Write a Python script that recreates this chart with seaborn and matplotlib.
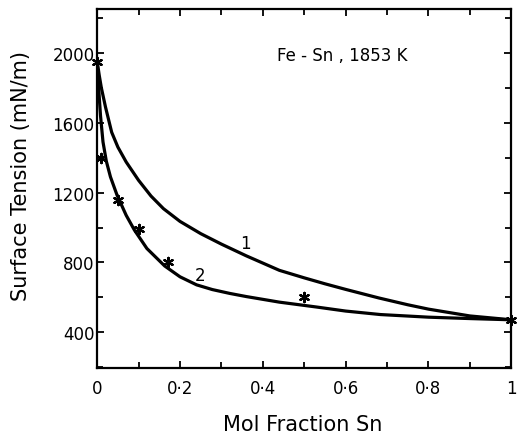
import numpy as np
import pandas as pd
import matplotlib
matplotlib.use("Agg")
import matplotlib.pyplot as plt
from matplotlib.ticker import MultipleLocator, FuncFormatter
import seaborn as sns

# curve 1 (upper model curve)
x_curve1 = [0, 0.005, 0.01, 0.02, 0.035, 0.05, 0.07, 0.1, 0.13, 0.16, 0.2,
            0.25, 0.3, 0.36, 0.44, 0.5, 0.55, 0.6, 0.68, 0.75, 0.8, 0.9, 1.0]
y_curve1 = [1950, 1870, 1800, 1690, 1545, 1460, 1375, 1270, 1180, 1108, 1035,
            965, 905, 838, 755, 712, 678, 646, 597, 558, 533, 494, 472]

# curve 2 (lower model curve)
x_curve2 = [0, 0.004, 0.008, 0.014, 0.022, 0.032, 0.048, 0.07, 0.09, 0.12,
            0.163, 0.2, 0.24, 0.278, 0.32, 0.36, 0.44, 0.53, 0.6, 0.684,
            0.8, 0.9, 1.0]
y_curve2 = [1950, 1780, 1640, 1490, 1380, 1290, 1185, 1070, 985, 880,
            780, 718, 672, 645, 623, 605, 573, 545, 522, 502,
            487, 479, 472]

# experimental points
x_exp = [0, 0.01, 0.05, 0.1, 0.17, 0.5, 1.0]
y_exp = [1950, 1400, 1160, 990, 800, 600, 470]

x_ticks = [0, 0.2, 0.4, 0.6, 0.8, 1.0]
y_ticks = [400, 800, 1200, 1600, 2000]

sns.set_style("ticks")
plt.rcParams["font.family"] = ["DejaVu Sans"]
plt.rcParams["text.color"] = "black"
plt.rcParams["axes.labelcolor"] = "black"
plt.rcParams["xtick.color"] = "black"
plt.rcParams["ytick.color"] = "black"

fig = plt.figure(figsize=(5.17, 4.39), dpi=100)
ax = fig.add_axes([0.188, 0.159, 0.801, 0.818])

c1 = pd.DataFrame({"x": x_curve1, "y": y_curve1})
c2 = pd.DataFrame({"x": x_curve2, "y": y_curve2})
sns.lineplot(data=c1, x="x", y="y", ax=ax, color="black", lw=2.3, sort=False)
sns.lineplot(data=c2, x="x", y="y", ax=ax, color="black", lw=2.3, sort=False)
sns.scatterplot(x=x_exp, y=y_exp, ax=ax, marker=(6, 2, 0), s=45,
                color="black", linewidth=1.6, zorder=5, clip_on=False)

ax.set_xlim(0, 1)
ax.set_ylim(195, 2250)
ax.set_xticks(x_ticks)
ax.set_yticks(y_ticks)
ax.xaxis.set_minor_locator(MultipleLocator(0.1))
ax.yaxis.set_minor_locator(MultipleLocator(200))


def fmt_x(v, pos):
    if abs(v) < 1e-9:
        return "0"
    if abs(v - 1) < 1e-9:
        return "1"
    return f"{v:.1f}".replace(".", "\u00b7")


ax.xaxis.set_major_formatter(FuncFormatter(fmt_x))
ax.tick_params(which="both", direction="in", top=True, right=True,
               width=1.3, labelsize=12)
ax.tick_params(which="major", length=5)
ax.tick_params(which="minor", length=4)
ax.tick_params(axis="x", pad=8)
ax.tick_params(axis="y", pad=2)
for s in ax.spines.values():
    s.set_linewidth(1.6)
    s.set_color("black")

ax.set_xlabel("Mol Fraction Sn", fontsize=15, va="center")
ax.set_ylabel("Surface Tension (mN/m)", fontsize=15, va="center")
ax.xaxis.set_label_coords(0.496, -0.156)
ax.yaxis.set_label_coords(-0.185, 0.538)

ax.text(0.435, 1985, "Fe - Sn , 1853 K", fontsize=12, va="center")
ax.text(0.358, 914, "1", fontsize=12, ha="center", va="center")
ax.text(0.249, 731, "2", fontsize=12, ha="center", va="center")

fig.savefig("out.png", dpi=100)
